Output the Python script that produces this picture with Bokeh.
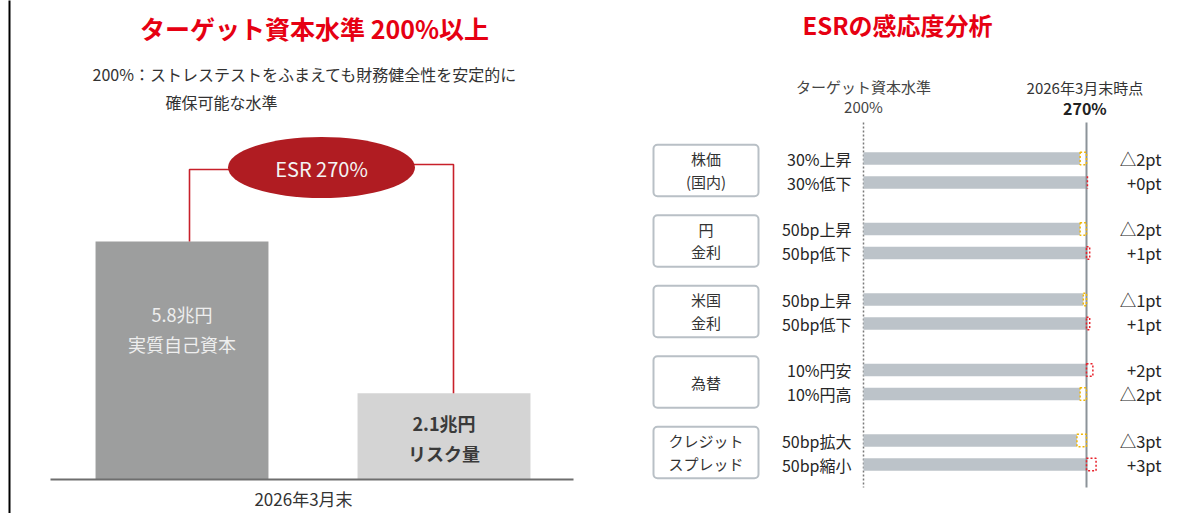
from bokeh.plotting import figure
from bokeh.models import Range1d
from bokeh.layouts import row
from bokeh.embed import file_html
from bokeh.resources import INLINE
from bokeh.core.properties import value

# ---------------- data ----------------
capital_labels = ["実質自己資本", "リスク量"]
capital_values = [5.8, 2.1]          # 兆円
capital_date = "2026年3月末"
esr_target = 200
esr_current = 270

group_labels = [["株価", "(国内)"], ["円", "金利"], ["米国", "金利"], ["為替"], ["クレジット", "スプレッド"]]
scenario_labels = [["30%上昇", "30%低下"], ["50bp上昇", "50bp低下"], ["50bp上昇", "50bp低下"],
                   ["10%円安", "10%円高"], ["50bp拡大", "50bp縮小"]]
esr_deltas = [[-2, 0], [-2, 1], [-1, 1], [2, -2], [-3, 3]]   # pt

FONT = "Noto Sans CJK JP"
RED_TITLE = "#e60012"
H = 513

# ---------------- left panel ----------------
W1 = 617
def LX(px):  # page pixel -> category units
    return (px - 181.5) / 262.0
def LY(py):  # page pixel -> 兆円
    return (479.0 - py) / 41.03

p1 = figure(width=W1, height=H, x_range=Range1d(LX(0), LX(W1)), y_range=Range1d(LY(H), LY(0)),
            output_backend="svg", toolbar_location=None, x_axis_location=None, y_axis_location=None,
            min_border=0)
p1.grid.visible = False
p1.outline_line_color = None
p1.background_fill_color = "white"

# left frame line
p1.segment(x0=LX(9), y0=LY(-5), x1=LX(9), y1=LY(530), line_color="black", line_width=2)

def t1(x, y, txt, size, color="#333333", align="center", style="normal"):
    p1.text(x=[x], y=[y], text=[txt], text_align=align, text_baseline="middle",
            text_font=value(FONT), text_font_size=value(size), text_color=color, text_font_style=style)

t1(LX(314), LY(27), "ターゲット資本水準 200%以上", "25px", RED_TITLE, style="bold")
t1(LX(92), LY(73), "200%：ストレステストをふまえても財務健全性を安定的に", "16px", "#333333", align="left")
t1(LX(165), LY(101), "確保可能な水準", "16px", "#333333", align="left")

xs = list(range(len(capital_values)))
p1.vbar(x=xs, top=capital_values, bottom=0, width=0.66,
        fill_color=["#9d9e9e", "#d4d4d4"], line_color=None)
p1.segment(x0=LX(50), y0=0, x1=LX(573), y1=0, line_color="#6e6e6e", line_width=2)

# connectors
p1.line(x=[LX(230), LX(189), LX(189)], y=[LY(169), LY(169), capital_values[0]], line_color="#c8202a", line_width=1.6)
p1.line(x=[LX(413), LX(453), LX(453)], y=[LY(164), LY(164), capital_values[1]], line_color="#c8202a", line_width=1.6)
p1.ellipse(x=LX(321), y=LY(167), width=187 / 262.0, height=61 / 41.03, fill_color="#b01c22", line_color=None)
t1(LX(321), LY(168), f"ESR {esr_current}%", "20px", "#f4f4f4")

t1(xs[0], LY(313), f"{capital_values[0]}兆円", "18px", "#eeeeee")
t1(xs[0], LY(343), capital_labels[0], "18px", "#eeeeee")
t1(xs[1], LY(422), f"{capital_values[1]}兆円", "18px", "#3a3a3a", style="bold")
t1(xs[1], LY(452), capital_labels[1], "18px", "#3a3a3a", style="bold")
t1(LX(303), LY(498), capital_date, "17px", "#333333")

# ---------------- right panel ----------------
X0 = W1
W2 = 1186 - W1
PX_PER_PT = (1086 - 863) / float(esr_current - esr_target)
def RX(px):
    return esr_target + (px - 863) / PX_PER_PT
def RY(py):
    return (py - 158) / 24.0

p2 = figure(width=W2, height=H, x_range=Range1d(RX(X0), RX(X0 + W2)), y_range=Range1d(RY(H), RY(0)),
            output_backend="svg", toolbar_location=None, x_axis_location=None, y_axis_location=None,
            min_border=0)
p2.grid.visible = False
p2.outline_line_color = None
p2.background_fill_color = "white"

def t2(x, y, txt, size, color="#333333", align="center", style="normal"):
    p2.text(x=[x], y=[y], text=[txt], text_align=align, text_baseline="middle",
            text_font=value(FONT), text_font_size=value(size), text_color=color, text_font_style=style)

t2(RX(897), RY(24), "ESRの感応度分析", "24px", RED_TITLE, style="bold")
t2(esr_target, RY(86), "ターゲット資本水準", "15px", "#444444")
t2(esr_target, RY(106), f"{esr_target}%", "15px", "#444444")
t2(esr_current - 0.5, RY(87), "2026年3月末時点", "15px", "#333333")
t2(esr_current - 0.5, RY(107), f"{esr_current}%", "16px", "#222222", style="bold")

GROUP_STEP = 70.5 / 24.0
rows, deltas, scen = [], [], []
for g, grp in enumerate(esr_deltas):
    for i, d in enumerate(grp):
        rows.append(g * GROUP_STEP + i)
        deltas.append(d)
        scen.append(scenario_labels[g][i])

# reference lines
p2.segment(x0=esr_target, y0=RY(122), x1=esr_target, y1=RY(487), line_color="#7a7a7a", line_width=1.5, line_dash="2 2")

# bars
p2.hbar(y=rows, left=esr_target, right=[esr_current + min(d, 0) for d in deltas], height=0.52,
        fill_color="#bcc3c9", line_color=None)
p2.segment(x0=esr_current, y0=RY(122), x1=esr_current, y1=RY(487), line_color="#8c9399", line_width=2)

# dashed change boxes
nz = [k for k, d in enumerate(deltas) if d != 0]
p2.hbar(y=[rows[k] for k in nz], left=[esr_current + min(deltas[k], 0) for k in nz],
        right=[esr_current + max(deltas[k], 0) for k in nz], height=0.52, fill_color=None,
        line_color=["#f2b705" if deltas[k] < 0 else "#e8202a" for k in nz], line_width=1.5, line_dash="2 2")
zz = [k for k, d in enumerate(deltas) if d == 0]
p2.segment(x0=[esr_current + 0.3] * len(zz), y0=[rows[k] - 0.26 for k in zz],
           x1=[esr_current + 0.3] * len(zz), y1=[rows[k] + 0.26 for k in zz],
           line_color="#e8202a", line_width=1.5, line_dash="2 2")

# category boxes
for g, lines in enumerate(group_labels):
    c = g * GROUP_STEP + 0.5
    p2.quad(left=RX(653), right=RX(758), top=c - 1.07, bottom=c + 1.07, fill_color="white",
            line_color="#b9c0c6", line_width=2, border_radius=4)
    if len(lines) == 1:
        t2(RX(705.5), c, lines[0], "15px", "#333333")
    else:
        t2(RX(705.5), g * GROUP_STEP, lines[0], "15px", "#333333")
        t2(RX(705.5), g * GROUP_STEP + 0.95, lines[1], "15px", "#333333")

p2.text(x=[RX(851)] * len(rows), y=rows, text=scen, text_align="right", text_baseline="middle",
        text_font=value(FONT), text_font_size=value("16px"), text_color="#262626")
val_txt = [("△" if d < 0 else "+") + f"{abs(d)}pt" for d in deltas]
p2.text(x=[RX(1161)] * len(rows), y=rows, text=val_txt, text_align="right", text_baseline="middle",
        text_font=value(FONT), text_font_size=value("16.5px"), text_color="#262626")

layout = row(p1, p2, spacing=0)
open("out.html", "w").write(file_html(layout, INLINE))
